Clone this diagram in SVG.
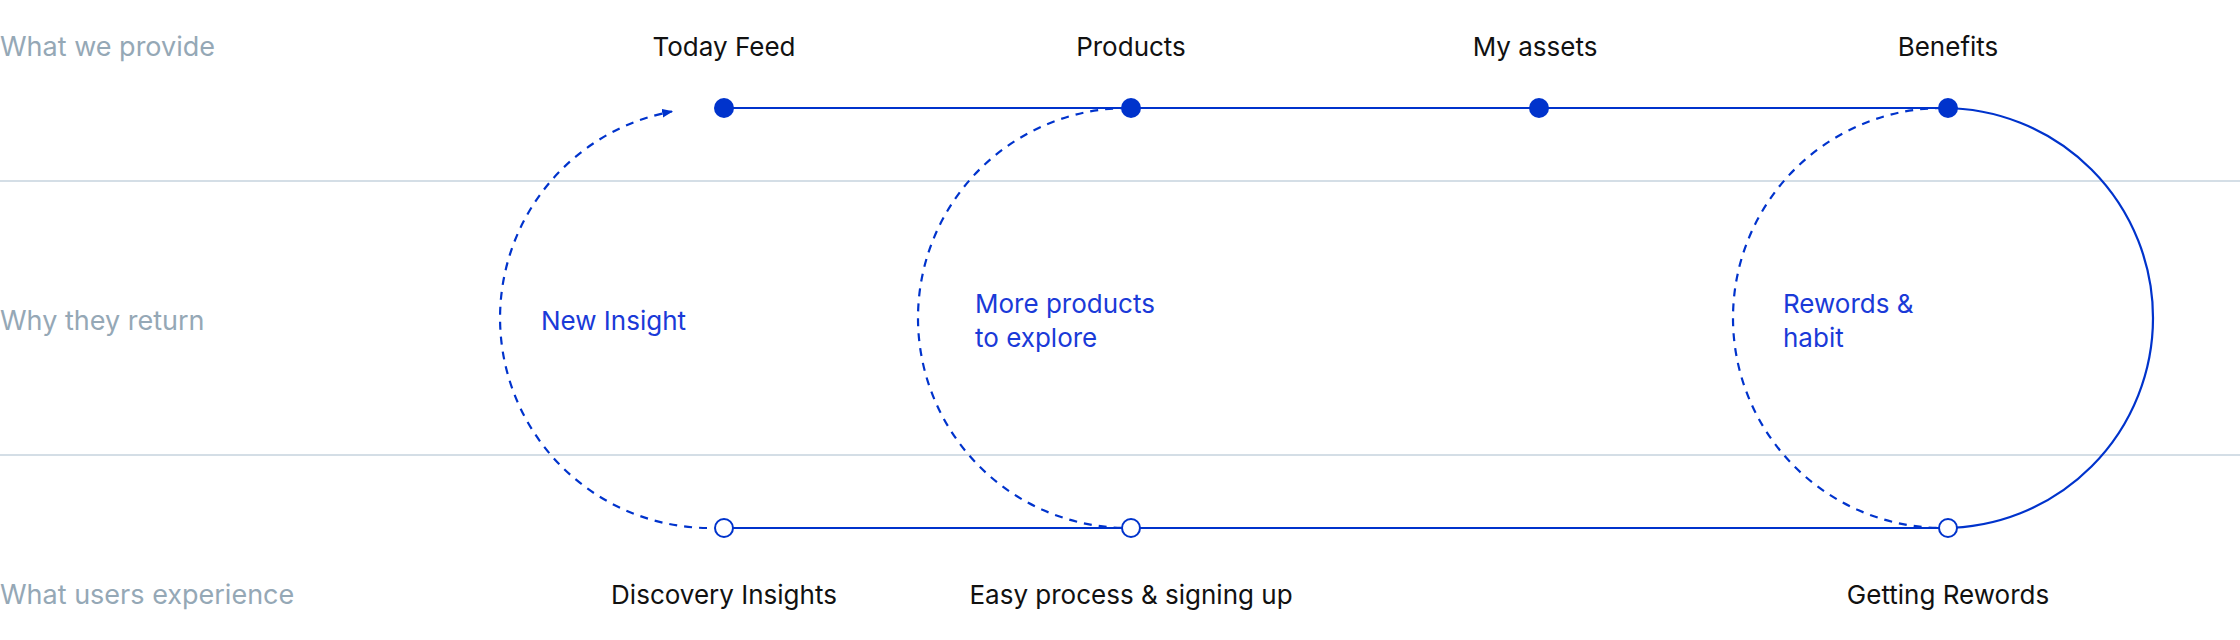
<svg xmlns="http://www.w3.org/2000/svg" width="2240" height="640" viewBox="0 0 2240 640">
<style>
.row{font-family:Inter,"Liberation Sans",sans-serif;font-size:27px;fill:#95a8b6}
.lbl{font-family:Inter,"Liberation Sans",sans-serif;font-size:26px;fill:#111111;text-anchor:middle}
.why{font-family:Inter,"Liberation Sans",sans-serif;font-size:26px;fill:#1a3ad8}
.sep{stroke:#d4dee6;stroke-width:2;fill:none}
.solid{stroke:#0033cc;stroke-width:2.2;fill:none}
.dash{stroke:#0033cc;stroke-width:2.2;fill:none;stroke-dasharray:8 7}
.full{fill:#0033cc}
.hollow{fill:#ffffff;stroke:#0033cc;stroke-width:2}
</style>
<defs>
<marker id="arrow" viewBox="0 0 10 8" refX="9" refY="4" markerWidth="11" markerHeight="9" markerUnits="userSpaceOnUse" orient="auto">
<path d="M0,0 L10,4 L0,8 z" fill="#0033cc"/>
</marker>
</defs>
<rect width="2240" height="640" fill="#ffffff"/>
<g id="rows">
<line class="sep" x1="0" y1="181" x2="2240" y2="181"/>
<line class="sep" x1="0" y1="455" x2="2240" y2="455"/>
<text class="row" x="0" y="56">What we provide</text>
<text class="row" x="0" y="330">Why they return</text>
<text class="row" x="0" y="604">What users experience</text>
</g>
<g id="connectors">
<line class="solid" x1="724" y1="108" x2="1948" y2="108"/>
<line class="solid" x1="724" y1="528" x2="1948" y2="528"/>
<path class="dash" d="M707,528 A210,210 0 0 1 672,111.5" marker-end="url(#arrow)"/>
<path class="dash" d="M1128,108 A210,210 0 0 0 1128,528"/>
<path class="dash" d="M1943,108 A210,210 0 0 0 1943,528"/>
<path class="solid" d="M1943,108 A210,210 0 0 1 1943,528"/>
</g>
<g id="why-labels">
<text class="why" x="541" y="330">New Insight</text>
<text class="why" x="975" y="313">More products</text>
<text class="why" x="975" y="347">to explore</text>
<text class="why" x="1783" y="313">Rewords &amp;</text>
<text class="why" x="1783" y="347">habit</text>
</g>
<g id="node-today-feed">
<circle class="full" cx="724" cy="108" r="10"/>
<text class="lbl" x="724" y="56">Today Feed</text>
</g>
<g id="node-products">
<circle class="full" cx="1131" cy="108" r="10"/>
<text class="lbl" x="1131" y="56">Products</text>
</g>
<g id="node-my-assets">
<circle class="full" cx="1539" cy="108" r="10"/>
<text class="lbl" x="1535" y="56">My assets</text>
</g>
<g id="node-benefits">
<circle class="full" cx="1948" cy="108" r="10"/>
<text class="lbl" x="1948" y="56">Benefits</text>
</g>
<g id="node-discovery">
<circle class="hollow" cx="724" cy="528" r="9"/>
<text class="lbl" x="724" y="604">Discovery Insights</text>
</g>
<g id="node-easy-process">
<circle class="hollow" cx="1131" cy="528" r="9"/>
<text class="lbl" x="1131" y="604">Easy process &amp; signing up</text>
</g>
<g id="node-getting-rewords">
<circle class="hollow" cx="1948" cy="528" r="9"/>
<text class="lbl" x="1948" y="604">Getting Rewords</text>
</g>
</svg>
